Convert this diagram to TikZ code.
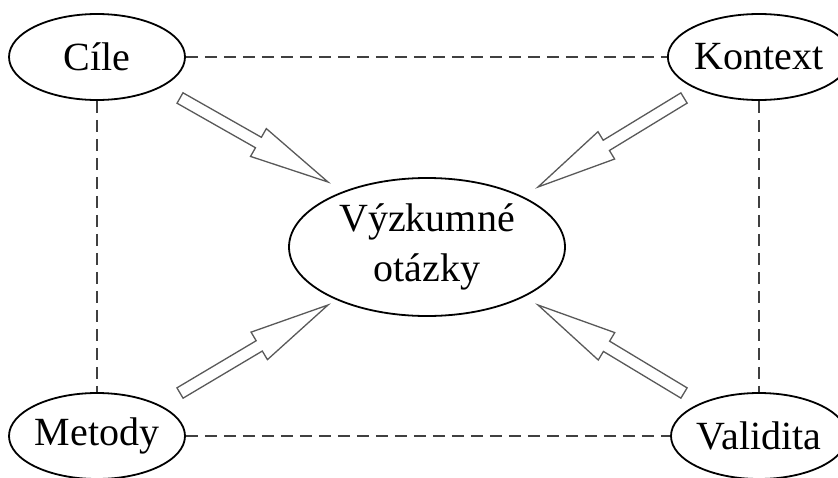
\documentclass[tikz,border=0pt]{standalone}
\usepackage{fontspec}
\setmainfont{Liberation Serif}
\usetikzlibrary{shapes.geometric,calc}
\tikzset{
  oval/.style={ellipse, draw=black, line width=1.8pt, minimum width=176pt, minimum height=86pt, inner sep=0pt, font=\fontsize{40}{50}\selectfont, text=black},
  bigoval/.style={oval, minimum width=276pt, minimum height=138pt, align=center},
  link/.style={draw=black!75, line width=1.8pt, dash pattern=on 12pt off 7pt},
  hollow/.style={draw=black!65, line width=1.3pt, fill=white, line join=miter}
}
\newcommand{\blockarr}[2]{%
  \path ($(#2)!80pt!(#1)$) coordinate (nk);
  \draw[hollow] ($(#1)!6pt!90:(#2)$) -- ($(nk)!6pt!90:(#2)$) -- ($(nk)!16pt!90:(#2)$) -- (#2)
    -- ($(nk)!16pt!-90:(#2)$) -- ($(nk)!6pt!-90:(#2)$) -- ($(#1)!6pt!-90:(#2)$) -- cycle;}
\begin{document}
\begin{tikzpicture}[x=1pt,y=-1pt]
\useasboundingbox (0,0) rectangle (838,477);
\node[oval] (cile) at (97,57) {Cíle};
\node[oval] (kontext) at (759,57) {Kontext};
\node[oval] (metody) at (97,436) {Metody};
\node[oval] (validita) at (759,436) {Validita};
\node[bigoval] (vo) at (427,247) {Výzkumné\\otázky};
\draw[link] (cile.east) -- (kontext.west);
\draw[link] (cile.south) -- (metody.north);
\draw[link] (kontext.south) -- (validita.north);
\draw[link] (metody.east) -- (validita.west);
\coordinate (t1) at (180,98);  \coordinate (p1) at (328,182);
\coordinate (t2) at (684,98);  \coordinate (p2) at (538,187);
\coordinate (t3) at (180,393); \coordinate (p3) at (328,305);
\coordinate (t4) at (684,393); \coordinate (p4) at (538,305);
\blockarr{t1}{p1}
\blockarr{t2}{p2}
\blockarr{t3}{p3}
\blockarr{t4}{p4}
\end{tikzpicture}
\end{document}
